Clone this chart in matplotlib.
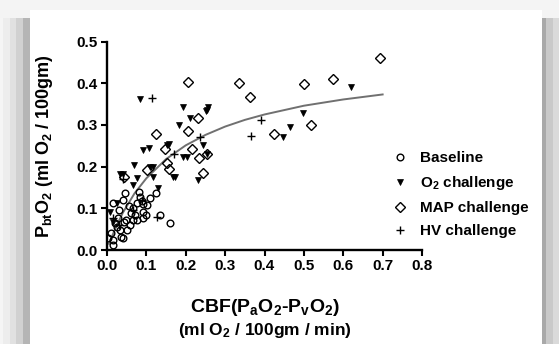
import numpy as np
import matplotlib
matplotlib.use("Agg")
import matplotlib.pyplot as plt
from matplotlib.patches import Rectangle
from matplotlib.lines import Line2D

plt.rcParams['font.family'] = ['Liberation Sans', 'DejaVu Sans']
plt.rcParams['font.weight'] = 'bold'
plt.rcParams['mathtext.fontset'] = 'custom'
plt.rcParams['mathtext.rm'] = 'Liberation Sans:bold'
plt.rcParams['mathtext.it'] = 'Liberation Sans:bold'
plt.rcParams['mathtext.bf'] = 'Liberation Sans:bold'

# ---------------- data ----------------
baseline_x = [0.0145, 0.0457, 0.040, 0.050, 0.0348, 0.0414, 0.016, 0.0145, 0.0034, 0.048,
              0.067, 0.0753, 0.071, 0.077, 0.088, 0.082, 0.092, 0.1008, 0.0906, 0.100,
              0.092, 0.0203, 0.0287, 0.033, 0.067, 0.124, 0.1345, 0.160, 0.030, 0.058,
              0.062, 0.108, 0.010, 0.055, 0.085, 0.025, 0.043]
baseline_y = [0.112, 0.136, 0.120, 0.048, 0.032, 0.028, 0.024, 0.012, 0.028, 0.072,
              0.072, 0.072, 0.084, 0.112, 0.1175, 0.140, 0.110, 0.108, 0.092, 0.084,
              0.076, 0.064, 0.077, 0.048, 0.100, 0.136, 0.084, 0.0655, 0.095, 0.060,
              0.088, 0.125, 0.040, 0.105, 0.128, 0.055, 0.068]

o2_x = [0.0838, 0.194, 0.2107, 0.255, 0.251, 0.257, 0.1835, 0.1515, 0.157, 0.092,
        0.107, 0.0693, 0.109, 0.1175, 0.1175, 0.1287, 0.0753, 0.065, 0.033, 0.0414,
        0.1667, 0.1726, 0.194, 0.2038, 0.2444, 0.255, 0.2318, 0.0076, 0.0246, 0.0145,
        0.6186, 0.4967, 0.4645, 0.446]
o2_y = [0.362, 0.342, 0.316, 0.336, 0.333, 0.342, 0.300, 0.252, 0.254, 0.240,
        0.245, 0.204, 0.200, 0.200, 0.176, 0.148, 0.172, 0.156, 0.182, 0.182,
        0.176, 0.176, 0.224, 0.222, 0.252, 0.230, 0.168, 0.092, 0.112, 0.068,
        0.390, 0.328, 0.294, 0.270]

map_x = [0.2048, 0.336, 0.363, 0.425, 0.1235, 0.2063, 0.2318, 0.147, 0.2165, 0.234,
         0.255, 0.2444, 0.153, 0.102, 0.158, 0.043, 0.693, 0.573, 0.4997, 0.519]
map_y = [0.402, 0.400, 0.368, 0.278, 0.278, 0.2854, 0.316, 0.242, 0.242, 0.220,
         0.231, 0.1854, 0.208, 0.192, 0.1935, 0.1758, 0.4597, 0.410, 0.397, 0.300]

hv_x = [0.115, 0.392, 0.365, 0.236, 0.040, 0.067, 0.088, 0.016, 0.127, 0.170, 0.030]
hv_y = [0.364, 0.312, 0.273, 0.270, 0.170, 0.096, 0.120, 0.0767, 0.080, 0.230, 0.060]

fit_x = [0.005, 0.02, 0.04, 0.07, 0.10, 0.15, 0.20, 0.25, 0.30, 0.35, 0.40, 0.50, 0.60, 0.70]
fit_y = [0.015, 0.049, 0.089, 0.136, 0.172, 0.218, 0.251, 0.276, 0.296, 0.312, 0.325, 0.346, 0.361, 0.373]

x_ticks = [0.0, 0.1, 0.2, 0.3, 0.4, 0.5, 0.6, 0.7, 0.8]
y_ticks = [0.0, 0.1, 0.2, 0.3, 0.4, 0.5]
legend_labels = ['Baseline', 'O$_2$ challenge', 'MAP challenge', 'HV challenge']

# ---------------- figure ----------------
W, H = 559, 344
fig = plt.figure(figsize=(W / 100, H / 100), dpi=100)
fig.patch.set_facecolor('#f4f4f4')

# background card + shadow
bg = fig.add_axes([0, 0, 1, 1], zorder=-10)
bg.set_xlim(0, W)
bg.set_ylim(H, 0)
bg.axis('off')
left_steps = [(0, 3, '#f5f5f5'), (3, 10, '#ededed'), (10, 16, '#e1e1e1'),
              (16, 23, '#d1d1d1'), (23, 30, '#b5b5b5')]
for x0, x1, c in left_steps:
    bg.add_patch(Rectangle((x0, 18), x1 - x0, H - 18, color=c, lw=0))
right_steps = [(542, 546, '#a9a9a9'), (546, 553, '#c9c9c9'), (553, 559, '#dadada')]
for x0, x1, c in right_steps:
    bg.add_patch(Rectangle((x0, 18), x1 - x0, H - 18, color=c, lw=0))
bg.add_patch(Rectangle((30, 10), 512, H - 10, color='white', lw=0))

# main axes
L, R, T, B = 107, 422, 41.5, 250
ax = fig.add_axes([L / W, 1 - B / H, (R - L) / W, (B - T) / H])
ax.set_facecolor('none')

ax.plot(fit_x, fit_y, color='#707070', lw=1.4, zorder=2)

h1, = ax.plot(baseline_x, baseline_y, ls='none', marker='o', ms=4.8, mfc='none',
              mec='black', mew=1.0, zorder=3)
h2, = ax.plot(o2_x, o2_y, ls='none', marker='v', ms=5.0, mfc='black',
              mec='black', mew=0.5, zorder=3)
h3, = ax.plot(map_x, map_y, ls='none', marker='D', ms=5.2, mfc='none',
              mec='black', mew=1.0, zorder=3)
h4, = ax.plot(hv_x, hv_y, ls='none', marker='+', ms=6.0, mec='black',
              mew=1.0, zorder=3)

ax.set_xlim(0, 0.8)
ax.set_ylim(0, 0.5)
ax.set_xticks(x_ticks)
ax.set_yticks(y_ticks)
ax.set_xticklabels([f'{v:.1f}' for v in x_ticks])
ax.set_yticklabels([f'{v:.1f}' for v in y_ticks])
for s in ['top', 'right']:
    ax.spines[s].set_visible(False)
for s in ['left', 'bottom']:
    ax.spines[s].set_linewidth(1.7)
ax.tick_params(direction='out', length=4.5, width=1.5, labelsize=11, pad=2)
ax.margins(0)

# labels
fig.text(45 / W, 1 - 146 / H, 'P$_{bt}$O$_2$ (ml O$_2$ / 100gm)', rotation=90,
         ha='center', va='center', fontsize=13, fontweight='bold')
fig.text(264.5 / W, 1 - 307 / H, 'CBF(P$_a$O$_2$-P$_v$O$_2$)', ha='center', va='center',
         fontsize=14, fontweight='bold')
fig.text(264.5 / W, 1 - 330 / H, '(ml O$_2$ / 100gm / min)', ha='center', va='center',
         fontsize=12.5, fontweight='bold')

leg = fig.legend([h1, h2, h3, h4], legend_labels, loc='upper left',
                 bbox_to_anchor=(392.2 / W, 1 - 151.5 / H), bbox_transform=fig.transFigure,
                 frameon=False, borderpad=0, borderaxespad=0, handlelength=1.0,
                 handletextpad=0.83, labelspacing=0.58, fontsize=11)

fig.savefig('out.png', dpi=100, facecolor=fig.get_facecolor())
